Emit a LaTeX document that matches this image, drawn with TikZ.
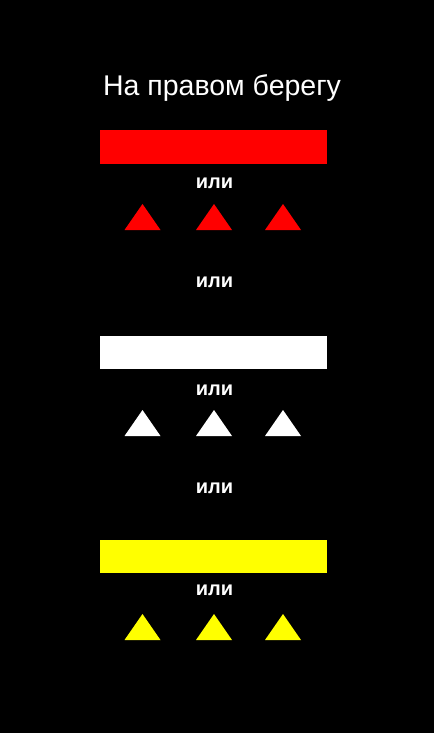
\documentclass[tikz,border=0pt]{standalone}
\usepackage{fontspec}
\setmainfont{Liberation Sans}
\usetikzlibrary{positioning}
\definecolor{bankRed}{HTML}{FF0000}
\definecolor{bankYellow}{HTML}{FFFF00}
\newcommand{\orword}{или}

\begin{document}
\begin{tikzpicture}[
  x=1pt, y=-1pt,
  bar/.style={rectangle, minimum width=227pt, minimum height=33pt, inner sep=0pt},
  orlbl/.style={text=white, inner sep=0pt, font=\fontsize{20}{22}\selectfont\bfseries},
]

% ===== Background ==========================================================
\fill[black] (0,0) rectangle (434,733);
\useasboundingbox (0,0) rectangle (434,733);

% ===== Title ===============================================================
\node[text=white, inner sep=0pt, anchor=base, font=\fontsize{28.5}{32}\selectfont]
  (title) at (222,96) {На правом берегу};

% ===== 1) red ==============================================================
\node[bar, fill=bankRed] (redbar) at (213.5,147) {};
\node[orlbl] (or1) at (214.5,183) {\orword};
\foreach \cx in {142.5,214,283}
  \fill[bankRed] (\cx-18,230) -- (\cx+18,230) -- (\cx,204) -- cycle;

\node[orlbl] (or2) at (214.5,282) {\orword};

% ===== 2) white ============================================================
\node[bar, fill=white] (whitebar) at (213.5,352.5) {};
\node[orlbl] (or3) at (214.5,390.5) {\orword};
\foreach \cx in {142.5,214,283}
  \fill[white] (\cx-18,436) -- (\cx+18,436) -- (\cx,410) -- cycle;

\node[orlbl] (or4) at (214.5,488) {\orword};

% ===== 3) yellow ===========================================================
\node[bar, fill=bankYellow] (yellowbar) at (213.5,556.5) {};
\node[orlbl] (or5) at (214.5,590) {\orword};
\foreach \cx in {142.5,214,283}
  \fill[bankYellow] (\cx-18,640) -- (\cx+18,640) -- (\cx,614) -- cycle;

\end{tikzpicture}
\end{document}
